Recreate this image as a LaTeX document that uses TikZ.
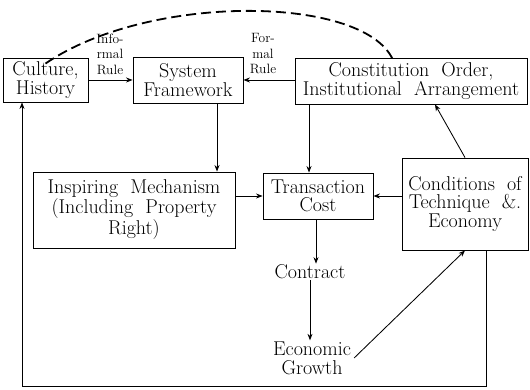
\documentclass[tikz,border=0pt]{standalone}
\usepackage{fontspec}
\usetikzlibrary{arrows.meta}
\begin{document}
\begin{tikzpicture}[x=1pt,y=-1pt,
  box/.style={draw,line width=0.9pt,rectangle,inner sep=2pt,align=center,
    font=\fontsize{20}{18.5}\selectfont},
  plain/.style={inner sep=1pt,align=center,font=\fontsize{20}{19}\selectfont},
  small/.style={inner sep=0pt,align=center,font=\fontsize{13.5}{15.5}\selectfont},
  arr/.style={line width=0.85pt,-{Stealth[length=6.5pt,width=5pt]}},
  dash arc/.style={line width=1.8pt,dash pattern=on 10pt off 5pt}]
\useasboundingbox (0,0) rectangle (530,390);
\node[box,minimum width=85pt,minimum height=44pt] (culture) at (45.5,80) {Culture,\\History};
\node[box,minimum width=110pt,minimum height=46pt] (system) at (188,80) {System\\Framework};
\node[box,minimum width=232pt,minimum height=46pt] (constitution) at (411,81) {Constitution\ \ Order,\\Institutional\ \ Arrangement};
\node[box,minimum width=202pt,minimum height=76pt] (inspiring) at (134,210) {Inspiring\ \ Mechanism\\(Including\ \ Property\\Right)};
\node[box,minimum width=110pt,minimum height=46pt] (transaction) at (318,196) {Transaction\\Cost};
\node[box,minimum width=126pt,minimum height=92pt] (conditions) at (465,204) {Conditions\ \ of\\Technique\ \ \&.\\Economy};
\node[plain] (contract) at (310,272) {Contract};
\node[plain] (economic) at (312,358) {Economic\\Growth};
\node[small] (informal) at (110,54) {Info-\\rmal\\Rule};
\node[small] (formal) at (263,54) {For-\\mal\\Rule};
\coordinate (lb) at (22,386);
% connectors
\draw[arr] (culture.east |- system.west) -- (system.west);
\draw[arr] (constitution.west |- system.east) -- (system.east);
\draw[arr] ([xshift=29pt]system.south) -- ([xshift=29pt]system.south |- inspiring.north);
\draw[arr] ([xshift=-102pt]constitution.south) -- ([xshift=-102pt]constitution.south |- transaction.north);
\draw[arr] (inspiring.east |- transaction.west) -- (transaction.west);
\draw[arr] (conditions.west |- transaction.east) -- (transaction.east);
\draw[arr] (conditions.north) -- ([xshift=24pt]constitution.south);
\draw[arr] ([xshift=-2pt]transaction.south) -- ([xshift=-2pt]transaction.south |- contract.north);
\draw[arr] (contract.south) -- (contract.south |- economic.north);
\draw[arr] ([xshift=2pt]economic.east) -- (conditions.south);
\draw[arr] ([xshift=21pt]conditions.south) |- (lb) -- ([xshift=-23.5pt]culture.south);
\draw[dash arc] ([yshift=-6pt]culture.north) .. controls (150,-8) and (370,-5) .. ([xshift=-17pt,yshift=-5pt]constitution.north);
\end{tikzpicture}
\end{document}
